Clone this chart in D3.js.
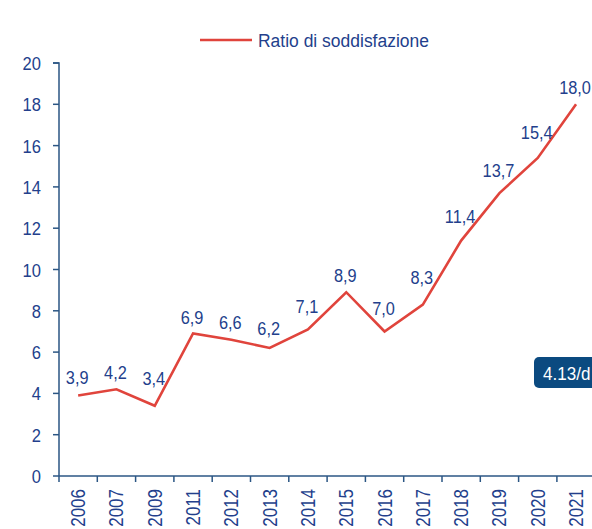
<!DOCTYPE html>
<html>
<head>
<meta charset="utf-8">
<script src="https://cdn.jsdelivr.net/npm/d3@7"></script>
<style>
  html, body { margin: 0; padding: 0; background: #fff; overflow: hidden; }
  svg { display: block; }
</style>
</head>
<body>
<svg id="chart" width="592" height="529"></svg>
<script>
// Ratio di soddisfazione per anno
const years = ["2006", "2007", "2009", "2011", "2012", "2013", "2014", "2015", "2016", "2017", "2018", "2019", "2020", "2021"];
const ratio = [3.9, 4.2, 3.4, 6.9, 6.6, 6.2, 7.1, 8.9, 7.0, 8.3, 11.4, 13.7, 15.4, 18.0];
const yTicks = [0, 2, 4, 6, 8, 10, 12, 14, 16, 18, 20];
const seriesName = "Ratio di soddisfazione";
const badgeText = "4.13/d";

const FONT = "'Liberation Sans', Arial, sans-serif";
const TEXT = "#233f8c";
const AXIS = "#2b5684";
const LINE = "#e0443c";
const BADGE = "#0b4a80";

const svg = d3.select("#chart");
const plotLeft = 59, plotTop = 63, plotBottom = 476;
const bandW = 38.3;

const x = d3.scaleBand()
  .domain(years)
  .range([plotLeft, plotLeft + bandW * years.length])
  .paddingInner(0).paddingOuter(0);
const y = d3.scaleLinear().domain([0, 20]).range([plotBottom, plotTop]);
const cx = d => x(d) + x.bandwidth() / 2;

// condensed text: place at (px, py), squeeze horizontally, optional rotation
function addText(g, px, py, str, size, anchor, sx, rot) {
  return g.append("text")
    .attr("transform", `translate(${px},${py})${rot ? ` rotate(${rot})` : ""} scale(${sx},1)`)
    .attr("text-anchor", anchor)
    .attr("fill", TEXT)
    .attr("font-family", FONT)
    .attr("font-size", size)
    .text(str);
}

// Y axis
const yg = svg.append("g");
yg.append("path")
  .attr("d", `M${plotLeft - 6},${y(20)}H${plotLeft}V${plotBottom}`)
  .attr("fill", "none").attr("stroke", AXIS).attr("stroke-width", 1.5);
yg.selectAll("line.yt").data(yTicks).enter().append("line")
  .attr("class", "yt")
  .attr("x1", plotLeft - 6).attr("x2", plotLeft)
  .attr("y1", d => y(d)).attr("y2", d => y(d))
  .attr("stroke", AXIS).attr("stroke-width", 1.5);
yTicks.forEach(t => addText(yg, 41, y(t) + 7, String(t), 19, "end", 0.87));

// X axis with ticks at category boundaries
const xg = svg.append("g");
xg.append("line")
  .attr("x1", plotLeft).attr("x2", x.range()[1])
  .attr("y1", plotBottom).attr("y2", plotBottom)
  .attr("stroke", AXIS).attr("stroke-width", 1.5);
const boundaries = years.map(d => x(d)).concat([x.range()[1]]);
xg.selectAll("line.xt").data(boundaries).enter().append("line")
  .attr("class", "xt")
  .attr("x1", d => d).attr("x2", d => d)
  .attr("y1", plotBottom).attr("y2", plotBottom + 6)
  .attr("stroke", AXIS).attr("stroke-width", 1.5);
years.forEach(yr => addText(xg, cx(yr) + 7, plotBottom + 13, yr, 20, "end", 0.85, -90));

// Series line
const line = d3.line().x((d, i) => cx(years[i])).y(d => y(d));
svg.append("path")
  .datum(ratio)
  .attr("d", line)
  .attr("fill", "none")
  .attr("stroke", LINE)
  .attr("stroke-width", 2.6)
  .attr("stroke-linejoin", "miter");

// Value labels, lifted further where a neighbouring point is higher
const fmt = v => d3.format(".1f")(v).replace(".", ",");
const vg = svg.append("g");
ratio.forEach((v, i) => {
  const prev = i > 0 ? ratio[i - 1] : v;
  const next = i < ratio.length - 1 ? ratio[i + 1] : v;
  const rise = Math.max(0, prev - v, next - v);
  const off = Math.min(21, 10 + 3.5 * rise);
  addText(vg, cx(years[i]) - 1, y(v) - off, fmt(v), 19, "middle", 0.86);
});

// Legend
const lg = svg.append("g");
lg.append("line").attr("x1", 200).attr("x2", 252).attr("y1", 40).attr("y2", 40)
  .attr("stroke", LINE).attr("stroke-width", 2.6);
addText(lg, 258, 47, seriesName, 19, "start", 0.92);

// Badge
const badge = svg.append("g");
badge.append("rect").attr("x", 534).attr("y", 357).attr("width", 70).attr("height", 31).attr("rx", 5)
  .attr("fill", BADGE);
addText(badge, 543, 380, badgeText, 18, "start", 0.95).attr("fill", "#fff");
</script>
</body>
</html>
